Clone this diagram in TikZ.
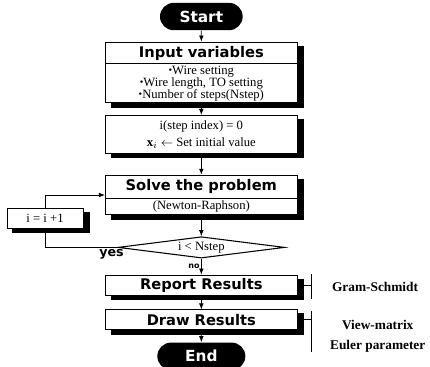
\documentclass[tikz,border=0pt]{standalone}
\usepackage{fontspec}
\setmainfont{Liberation Serif}
\newfontfamily\headfont{DejaVu Sans}
\usetikzlibrary{arrows.meta, positioning, shapes.geometric, shapes.misc, shapes.multipart}
\newcommand{\hd}{\headfont\bfseries\fontsize{11}{13}\selectfont}
\newcommand{\hgt}[2]{\rule[-#2]{0pt}{\dimexpr#1+#2\relax}}
\newcommand{\itm}{\raisebox{0.15ex}{\scalebox{0.8}{\textbullet}}}
\tikzset{
  every picture/.style={line width=0.6pt},
  box/.style={draw, fill=white, minimum width=144pt, align=center, inner xsep=2pt,
    font=\fontsize{9.5}{9}\selectfont,
    preaction={fill=black, draw=black, line width=1pt, transform canvas={shift={(4.5pt,-3.2pt)}}}},
  splitbox/.style={box, rectangle split, rectangle split parts=2, inner ysep=0pt},
  terminal/.style={rounded rectangle, fill=black, text=white, minimum height=20.5pt,
    inner sep=0pt, font=\headfont\bfseries\fontsize{11.5}{13}\selectfont},
  decision/.style={diamond, draw, fill=white, aspect=7, inner sep=0pt, line width=0.8pt,
    minimum width=125pt, minimum height=16pt, font=\fontsize{9.5}{11}\selectfont},
  arrow/.style={-{Latex[length=4.5pt, width=3.5pt]}},
  side/.style={font=\bfseries\fontsize{10}{14.5}\selectfont, align=center, inner sep=0pt},
  tag/.style={font=\headfont\bfseries\fontsize{9.5}{11}\selectfont, inner sep=0pt},
}

\begin{document}
\begin{tikzpicture}
  \useasboundingbox (0,0) rectangle (322.5pt,-275.25pt);
  % main column
  \node[terminal, minimum width=62pt] (start) at (151pt,-12.4pt) {Start};
  \node[splitbox, below=8.25pt of start] (input)
    {\hd\hgt{11pt}{4.75pt}Input variables
     \nodepart{two}\hgt{8pt}{0pt}\itm Wire setting\\ \itm Wire length, TO setting\\
     \itm Number of steps(Nstep)\hgt{0pt}{2.5pt}};
  \node[box, below=9pt of input, minimum height=28.5pt, font=\fontsize{9.5}{12.5}\selectfont] (init)
    {i(step index) = 0\\ $\mathbf{x}_i$ $\leftarrow$ Set initial value};
  \node[splitbox, below=15.75pt of init] (solve)
    {\hd\hgt{11.5pt}{5pt}Solve the problem
     \nodepart{two}\hgt{8.5pt}{3.5pt}(Newton-Raphson)};
  \node[decision, below=15.75pt of solve] (check) {i < Nstep};
  \node[box, below=12pt of check, minimum height=15pt, inner ysep=0pt, font=\hd] (report) {Report Results};
  \node[box, below=10.5pt of report, minimum height=15pt, inner ysep=0pt, font=\hd] (drawres) {Draw Results};
  \node[terminal, below=9pt of drawres, minimum width=66pt] (end) {End};
  % loop
  \node[box, minimum width=57pt, minimum height=15pt, inner ysep=0pt] (incr) at (33.75pt,-163.5pt) {i = i +1};

  \draw[arrow] (start) -- (input);
  \draw[arrow] (input) -- (init);
  \draw[arrow] (init) -- (solve);
  \draw[arrow] (solve) -- (check);
  \draw[arrow] (check) -- (report) node[midway, left=1pt, tag, font=\headfont\bfseries\fontsize{6}{7}\selectfont] (no) {no};
  \draw[arrow] (report) -- (drawres);
  \draw[arrow] (drawres) -- (end);
  \draw (check.west) -| (incr.south);
  \draw[arrow] (incr.north) |- (solve.west);
  \node[tag, below left=1.5pt and -5pt of check.west] (yes) {yes};

  % side notes
  \coordinate[right=10pt of report.east] (gsjoint);
  \draw (report.east) -- (gsjoint);
  \draw ([yshift=8.25pt]gsjoint) -- ([yshift=-10.5pt]gsjoint);
  \node[side] (gs) at ([xshift=48pt, yshift=-1.5pt]gsjoint) {Gram-Schmidt};
  \coordinate[right=10pt of drawres.east] (vmjoint);
  \draw (drawres.east) -- (vmjoint);
  \draw ([yshift=6.75pt]vmjoint) -- ([yshift=-24pt]vmjoint);
  \node[side] (vm) at ([xshift=50pt, yshift=-12.4pt]vmjoint) {View-matrix\\Euler parameter};
\end{tikzpicture}
\end{document}
